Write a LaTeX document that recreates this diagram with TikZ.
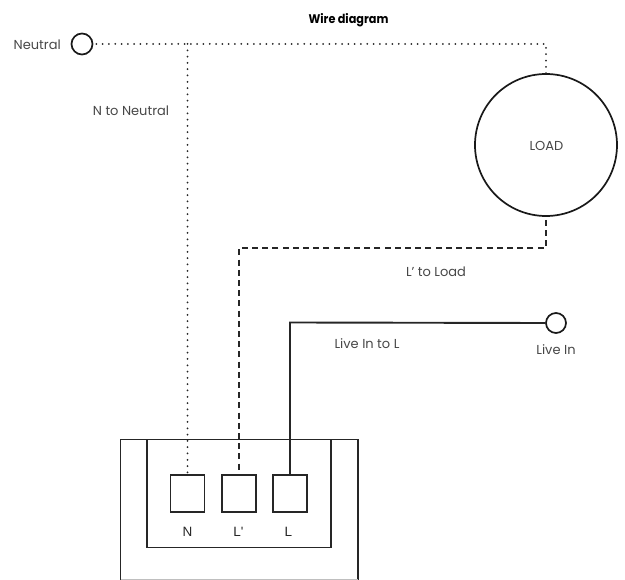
\documentclass[tikz,border=0pt]{standalone}
\usepackage{fontspec}
\setmainfont{Poppins}
\newfontfamily\armfont{Liberation Sans}
\newfontfamily\titlefont[FakeStretch=0.9]{Poppins}
\usetikzlibrary{calc}
\tikzset{
  lbl/.style={font=\fontsize{13pt}{15pt}\selectfont,text=black!72,inner sep=0pt},
  keylbl/.style={font=\armfont\fontsize{13.5pt}{15pt}\selectfont,text=black!85,inner sep=0pt},
  ring/.style={draw=black!90,circle,line width=1.7pt,inner sep=0pt,fill=white},
  term/.style={draw=black!85,line width=1.7pt,minimum width=34pt,minimum height=37pt,inner sep=0pt},
  housing/.style={draw=black!85,line width=1.7pt},
  dotwire/.style={draw=black!85,line width=2pt,line cap=round,dash pattern=on 0pt off 6.3pt},
  dashwire/.style={draw=black!85,line width=1.9pt,dash pattern=on 6pt off 4.2pt},
  solidwire/.style={draw=black!85,line width=1.9pt}
}
\begin{document}
\begin{tikzpicture}[x=1pt,y=-1pt]
\useasboundingbox (0,0) rectangle (625,580);
% housing
\coordinate (ob1) at (120.5,580);
\coordinate (ot1) at (120.5,439.5);
\coordinate (ot2) at (358,439.5);
\coordinate (ob2) at (358,580);
\draw[housing] (ob1) -- (ot1) -- (ot2) -- (ob2);
\draw[draw=black!25,line width=.6pt] (ob1) ++(0,-.5) -- ($(ob2)+(0,-.5)$);
\node[housing,draw,minimum width=184pt,minimum height=108pt,inner sep=0pt] (inner) at (239,493.5) {};
% terminals
\node[term] (tn) at (187.5,493.5) {};
\node[term] (tlp) at (239,493.5) {};
\node[term] (tl) at (290,493.5) {};
\node[keylbl] (ln) at (187.5,532) {N};
\node[keylbl] (llp) at (238.5,532) {L'};
\node[keylbl] (ll) at (288.5,532) {L};
% load, ends
\node[ring,minimum size=142pt] (load) at (546,145) {};
\node[lbl] (loadt) at (546.5,145.5) {LOAD};
\node[ring,minimum size=21pt] (neutral) at (82,44) {};
\node[ring,minimum size=20pt] (live) at (556,323) {};
% wires
\coordinate (nj) at (187.5,44);
\coordinate (nr) at (546,44);
\coordinate (dc) at (546,248);
\coordinate (db) at (239,248);
\coordinate (sc) at (290,322.5);
\draw[dotwire] (neutral.east) ++(3,0) -- (nr) -- (load.north);
\draw[dotwire] (nj) -- (tn.north);
\draw[dashwire] (load.south) ++(0,3) -- (dc) -- (db) -- ($(tlp.north)+(0,-3)$);
\draw[solidwire] (tl.north) -- (sc) -- (live.west);
% labels
\node[font=\titlefont\fontsize{12.5pt}{14pt}\selectfont\bfseries,inner sep=0pt] (title) at (348.5,20) {Wire diagram};
\node[lbl,anchor=east] (neutralt) at (61,45) {Neutral};
\node[lbl] (nn) at (131,111) {N to Neutral};
\node[lbl] (lload) at (436,272) {L' to Load};
\node[lbl] (livel) at (367,344) {Live In to L};
\node[lbl] (livet) at (556,349.5) {Live In};
\end{tikzpicture}
\end{document}
